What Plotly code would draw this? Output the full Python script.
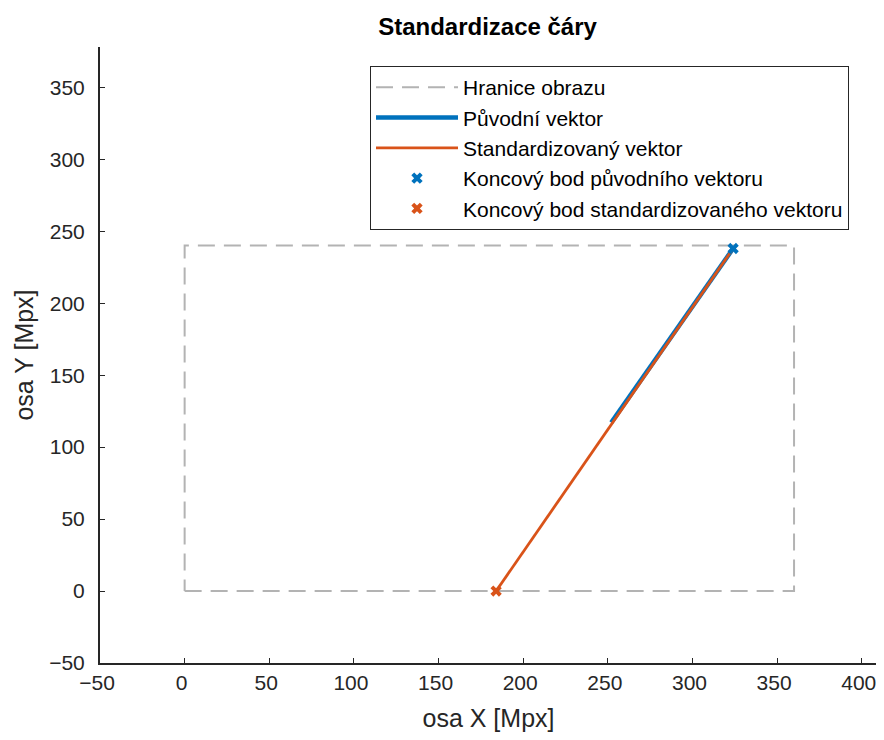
import plotly.graph_objects as go

# Data
boundary_x = [0, 360, 360, 0, 0]
boundary_y = [0, 0, 240, 240, 0]
orig_x = [252, 324]
orig_y = [117, 238]
std_x = [184, 324]
std_y = [0, 238]
orig_end_x = [324]
orig_end_y = [238]
std_end_x = [184]
std_end_y = [0]

x_ticks = [-50, 0, 50, 100, 150, 200, 250, 300, 350, 400]
y_ticks = [-50, 0, 50, 100, 150, 200, 250, 300, 350]

BLUE = "#0072bd"
ORANGE = "#d95319"
FONT = "Liberation Sans, Arial, sans-serif"

fig = go.Figure()
fig.add_trace(go.Scatter(x=boundary_x, y=boundary_y, mode="lines",
                         name="Hranice obrazu",
                         line=dict(color="#b3b3b3", width=2, dash="17px,9px")))
fig.add_trace(go.Scatter(x=orig_x, y=orig_y, mode="lines", name="Původní vektor",
                         line=dict(color=BLUE, width=4.5)))
fig.add_trace(go.Scatter(x=std_x, y=std_y, mode="lines", name="Standardizovaný vektor",
                         line=dict(color=ORANGE, width=2.8)))
fig.add_trace(go.Scatter(x=orig_end_x, y=orig_end_y, mode="markers",
                         name="Koncový bod původního vektoru",
                         marker=dict(symbol="x", size=10, color=BLUE,
                                     line=dict(width=0))))
fig.add_trace(go.Scatter(x=std_end_x, y=std_end_y, mode="markers",
                         name="Koncový bod standardizovaného vektoru",
                         marker=dict(symbol="x", size=10, color=ORANGE,
                                     line=dict(width=0))))

axis_common = dict(showgrid=False, zeroline=False, showline=True,
                   linecolor="#262626", linewidth=2, ticks="inside",
                   ticklen=5, tickcolor="#262626", tickwidth=1,
                   tickfont=dict(family=FONT, size=21, color="#262626"),
                   mirror=False, automargin=False, ticklabeloverflow="allow")

fig.update_layout(
    width=876, height=724,
    margin=dict(l=92, r=7, t=39, b=69),
    paper_bgcolor="white", plot_bgcolor="white",
    title=dict(text="<b>Standardizace čáry</b>", x=0.5474, xanchor="center",
               y=0.9738, yanchor="middle",
               font=dict(family=FONT, size=24, color="black")),
    xaxis=dict(range=[-50, 409], tickvals=x_ticks,
               title=dict(text="osa X [Mpx]", font=dict(family=FONT, size=25, color="#262626"),
                          standoff=16),
               ticklabelstandoff=0, ticklabelshift=-3,
               **axis_common),
    yaxis=dict(range=[-50, 378], tickvals=y_ticks,
               title=dict(text="osa Y [Mpx]", font=dict(family=FONT, size=25, color="#262626"),
                          standoff=8),
               ticklabelstandoff=9,
               **axis_common),
    legend=dict(x=0.3475, y=0.969, xanchor="left", yanchor="top",
                bgcolor="white", bordercolor="#262626", borderwidth=1,
                font=dict(family=FONT, size=21, color="black"),
                itemwidth=82, tracegroupgap=0),
    showlegend=True,
)

fig.write_html("out.html")
